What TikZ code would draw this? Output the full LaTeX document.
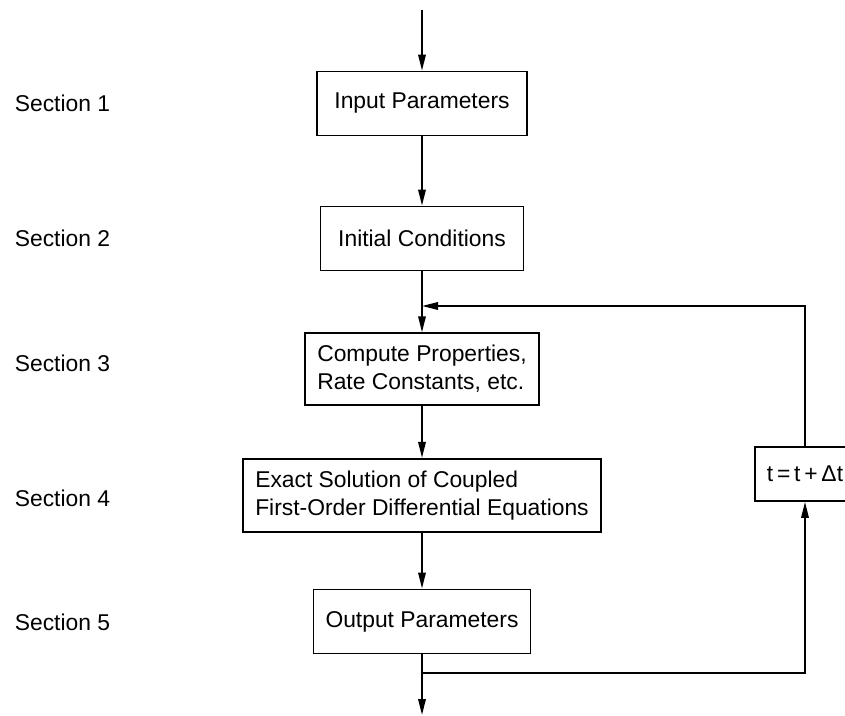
\documentclass[tikz,border=0pt]{standalone}
\usepackage{fontspec}
\setmainfont{Liberation Sans}
\usetikzlibrary{arrows.meta}

\begin{document}
\begin{tikzpicture}[
		x=0.02cm, y=-0.02cm,
		font=\fontsize{13}{16}\selectfont,
		line width=1pt,
		>={Triangle[length=3.2mm,width=1.5mm]},
		stepbox/.style={draw, inner sep=0.24cm, minimum height=1.28cm, align=left},
		seclabel/.style={anchor=west, inner sep=0pt}
		]
		\useasboundingbox (0,0) rectangle (845,716);

		\node[stepbox, minimum width=4.2cm](input) at (422,103.5){Input Parameters};
		\node[stepbox, minimum width=4.06cm, below of = input, yshift = -1.7cm](init){Initial Conditions};
		\node[stepbox, minimum width=4.6cm, below of = init, yshift = -1.61cm](props){Compute Properties,\\Rate Constants, etc.};
		\node[stepbox, minimum width=6.94cm, below of = props, yshift = -1.53cm](solve){Exact Solution of Coupled\\First-Order Differential Equations};
		\node[stepbox, minimum width=4.34cm, below of = solve, yshift = -1.52cm](output){Output Parameters};
		\node[stepbox, minimum width=1.76cm, minimum height=1.08cm](tstep) at (805,474){t\,=\,t\,+\,Δt};

		% section labels on the left
		\foreach \n/\y in {1/103,2/238,3/363,4/498,5/622}
			\node[seclabel](sec\n) at (14,\y){Section \n};

		\coordinate (start) at (422,10);
		\coordinate (join) at (422,306);
		\coordinate (split) at (422,673);
		\coordinate (finish) at (422,715);

		\draw[->] (start) -- (input);
		\draw[->] (input) -- (init);
		\draw (init) -- (join);
		\draw[->] (join) -- (props);
		\draw[->] (props) -- (solve);
		\draw[->] (solve) -- (output);
		\draw[->] (output) -- (finish);
		% time step loop
		\draw[->] (split) -| (tstep);
		\draw[->] (tstep) |- (join);
	\end{tikzpicture}
\end{document}
